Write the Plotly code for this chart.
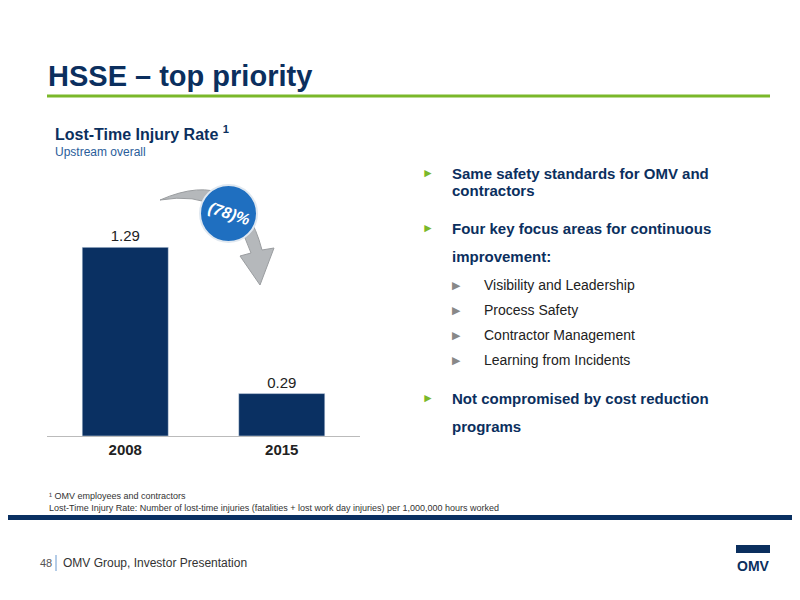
import plotly.graph_objects as go

years = ["2008", "2015"]
ltir = [1.29, 0.29]
labels = ["1.29", "0.29"]

NAVY = "#0b2f5e"
W, H = 800, 600
OFF = 8  # page body margin compensation

def px(x): return (x - OFF) / W
def py(y): return 1 - (y - OFF) / H

fig = go.Figure()
fig.add_trace(go.Bar(x=years, y=ltir, marker_color="#0a3062", width=0.55,
                     text=labels, textposition="outside", cliponaxis=False,
                     textfont=dict(size=15, color="#222", family="Arial")))
fig.update_layout(width=W, height=H, margin=dict(l=0, r=0, t=0, b=0),
    paper_bgcolor="white", plot_bgcolor="white", showlegend=False, font=dict(family="Arial"),
    xaxis=dict(domain=[px(47), px(360)], showline=True, linecolor="#bbb", linewidth=1,
               tickfont=dict(size=15, color="#222"), ticks="", ticklen=0,
               tickvals=years, ticktext=[f"<b>{y}</b>" for y in years]),
    yaxis=dict(domain=[py(436), py(202)], range=[0, 1.6], visible=False, showgrid=False))

ann = []
def T(x, y, s, size, color="#222", bold=False, anchor="left"):
    ann.append(dict(x=px(x), y=py(y), xref="paper", yref="paper", text=f"<b>{s}</b>" if bold else s,
                    showarrow=False, xanchor=anchor, yanchor="middle",
                    font=dict(size=size, color=color, family="Arial")))

T(46, 76, "HSSE – top priority", 29, NAVY, True)
T(53, 133, "Lost-Time Injury Rate <sup>1</sup>", 16, NAVY, True)
T(53, 152, "Upstream overall", 12, "#2a5d9a")
for y, s in [(173, "Same safety standards for OMV and"), (190, "contractors"),
             (228, "Four key focus areas for continuous"), (256, "improvement:"),
             (398, "Not compromised by cost reduction"), (426, "programs")]:
    T(450, y, s, 15, NAVY, True)
for y in (173, 228, 398):
    T(420, y, "►", 12, "#7ab82a")
for y, s in [(285, "Visibility and Leadership"), (310, "Process Safety"),
             (335, "Contractor Management"), (360, "Learning from Incidents")]:
    T(450, y, "▶", 11, "#888")
    T(482, y, s, 14, "#222")
T(47, 496, "¹ OMV employees and contractors", 9, "#333")
T(47, 508, "Lost-Time Injury Rate: Number of lost-time injuries (fatalities + lost work day injuries) per 1,000,000 hours worked", 9, "#333")
T(38, 563, "48", 11, "#555")
T(61, 563, "OMV Group, Investor Presentation", 12, "#333")
T(753, 566, "<b>OMV</b>", 14, NAVY, False, "center")
ann.append(dict(x=px(229), y=py(213), xref="paper", yref="paper", text="<b><i>(78)%</i></b>",
                showarrow=False, textangle=18, xanchor="center", yanchor="middle",
                font=dict(size=16, color="white", family="Arial")))

shapes = [
    dict(type="line", xref="paper", yref="paper", x0=px(47), x1=px(770), y0=py(96), y1=py(96),
         line=dict(color="#7ab82a", width=3)),
    dict(type="rect", xref="paper", yref="paper", x0=0, x1=1, y0=py(520), y1=py(515),
         fillcolor="#0a3062", line_width=0),
    dict(type="line", xref="paper", yref="paper", x0=px(56), x1=px(56), y0=py(555), y1=py(571),
         line=dict(color="#6a9ad0", width=1)),
    dict(type="path", xref="paper", yref="paper", layer="below",
         path=f"M {px(160)},{py(200)} Q {px(240)},{py(165)} {px(262)},{py(250)} L {px(274)},{py(248)} "
              f"L {px(260)},{py(285)} L {px(240)},{py(256)} L {px(251)},{py(253)} Q {px(230)},{py(188)} {px(160)},{py(200)} Z",
         fillcolor="#b5b8bb", line=dict(color="#9a9da0", width=1)),
    dict(type="circle", xref="paper", yref="paper", layer="below", x0=px(200), x1=px(257), y0=py(185), y1=py(242),
         fillcolor="#1f6fc0", line=dict(color="#e0e8f0", width=2)),
    dict(type="rect", xref="paper", yref="paper", x0=px(736), x1=px(770), y0=py(553), y1=py(545),
         fillcolor=NAVY, line_width=0),
]
fig.update_layout(annotations=ann, shapes=shapes)
fig.write_html("out.html")
